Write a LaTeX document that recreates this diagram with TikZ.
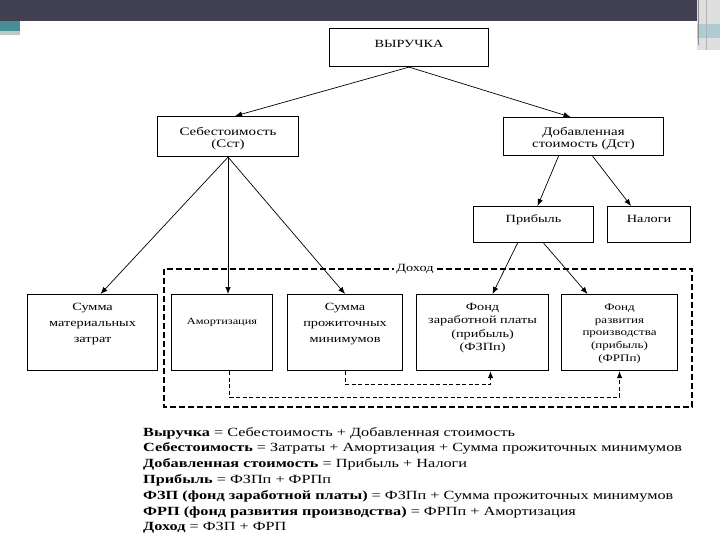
\documentclass[tikz,border=0pt]{standalone}
\usepackage{fontspec}
\setmainfont{Liberation Serif}[FakeStretch=1.3]
\usetikzlibrary{arrows.meta}
\definecolor{slidebar}{RGB}{65,65,82}
\definecolor{slideteal}{RGB}{72,140,150}
\tikzset{
	blok/.style={draw, line width=1.1pt, anchor=north west, inner sep=0pt,
		align=center, font=\fontsize{11.5}{11.5}\selectfont},
	nizblok/.style={blok, text height=48pt, text depth=28pt,
		font=\fontsize{11}{16}\selectfont},
	fondblok/.style={blok, text height=56pt, text depth=20pt,
		font=\fontsize{11}{13.3}\selectfont},
	strelka/.style={-{Latex[length=7pt,width=5.5pt]}, line width=0.7pt},
	svyaz/.style={strelka, dash pattern=on 4pt off 2.5pt, line width=1pt},
	ramka/.style={draw, dash pattern=on 6pt off 3pt, line width=1.1pt},
	formuly/.style={anchor=north west, inner sep=0pt, align=left,
		font=\fontsize{12.5}{15.8}\selectfont}
}
\begin{document}
\begin{tikzpicture}[x=1pt,y=-1pt]
	\useasboundingbox (0,0) rectangle (720,540);
	% slide frame
	\fill[slidebar] (0,0) rectangle (697,21);
	\fill[slideteal] (0,21) rectangle (20,31);
	\fill[slideteal!35!gray!45] (0,31) rectangle (20,35);
	\fill[gray!25] (697,0) rectangle (720,50);
	\fill[slideteal!45] (697,24) rectangle (720,38);
	\draw[gray!90, line width=1.5pt] (698.5,0) -- (698.5,45);
	\draw[gray!60, line width=1pt] (706.5,0) -- (706.5,50);
	
	% top levels
	\node[blok, minimum width=159pt, text height=19pt, text depth=19pt, font=\fontsize{11}{13}\selectfont] (vyruchka) at (329,28) {ВЫРУЧКА};
	\node[blok, minimum width=141pt, text height=30.5pt, text depth=9.5pt] (sst) at (157,116) {Себестоимость\\(Сст)};
	\node[blok, minimum width=160pt, text height=29.5pt, text depth=8.5pt] (dst) at (503,117) {Добавленная\\стоимость (Дст)};
	\node[blok, minimum width=120pt, text height=16pt, text depth=20pt, font=\fontsize{11}{13}\selectfont] (pribyl) at (473,206) {Прибыль};
	\node[blok, minimum width=83pt, text height=16pt, text depth=20pt, font=\fontsize{11}{13}\selectfont] (nalogi) at (607,206) {Налоги};
	
	% bottom row
	\draw[ramka] (164,269) rectangle (692,407);
	\node[fill=white, inner sep=2pt, font=\fontsize{11}{13}\selectfont] (dohod) at (415,269) {Доход};
	\node[nizblok, minimum width=130pt] (mat) at (27,294) {Сумма\\материальных\\затрат};
	\node[blok, minimum width=101pt, text height=30pt, text depth=46pt, font=\fontsize{9.5}{13}\selectfont] (amort) at (171,294) {Амортизация};
	\node[nizblok, minimum width=115pt] (prozh) at (287,294) {Сумма\\прожиточных\\минимумов};
	\node[fondblok, minimum width=132pt] (fzp) at (416,294) {Фонд\\заработной платы\\(прибыль)\\(ФЗПп)};
	\node[fondblok, minimum width=116pt, text height=67pt, text depth=9pt, font=\fontsize{10}{12.8}\selectfont] (frp) at (561,294) {Фонд\\развития\\производства\\(прибыль)\\(ФРПп)};
	
	% arrows
	\draw[strelka] (vyruchka.south) -- ([xshift=7pt]sst.north);
	\draw[strelka] (vyruchka.south) -- ([xshift=-13pt]dst.north);
	\draw[strelka] (sst.south) -- ([xshift=8pt]mat.north);
	\draw[strelka] (sst.south) -- (sst.south |- amort.north);
	\draw[strelka] (sst.south) -- (prozh.north);
	\draw[strelka] ([xshift=-25pt]dst.south) -- ([xshift=4pt]pribyl.north);
	\draw[strelka] ([xshift=9pt]dst.south) -- ([xshift=-18pt]nalogi.north);
	\draw[strelka] ([xshift=-16pt]pribyl.south) -- ([xshift=10pt]fzp.north);
	\draw[strelka] ([xshift=10pt]pribyl.south) -- ([xshift=-32pt]frp.north);
	\draw[svyaz] ([xshift=7.5pt]amort.south) -- ++(0,26) -| (frp.south);
	\draw[svyaz] (prozh.south) -- ++(0,13) -| ([xshift=8pt]fzp.south);
	
	% formulas
	\node[formuly] (formuly) at (143,427) {\textbf{Выручка} = Себестоимость + Добавленная стоимость\\
		\textbf{Себестоимость} = Затраты + Амортизация + Сумма прожиточных минимумов\\
		\textbf{Добавленная стоимость} = Прибыль + Налоги\\
		\textbf{Прибыль} = ФЗПп + ФРПп\\
		\textbf{ФЗП (фонд заработной платы)} = ФЗПп + Сумма прожиточных минимумов\\
		\textbf{ФРП (фонд развития производства)} = ФРПп + Амортизация\\
		\textbf{Доход} = ФЗП + ФРП};
\end{tikzpicture}
\end{document}
